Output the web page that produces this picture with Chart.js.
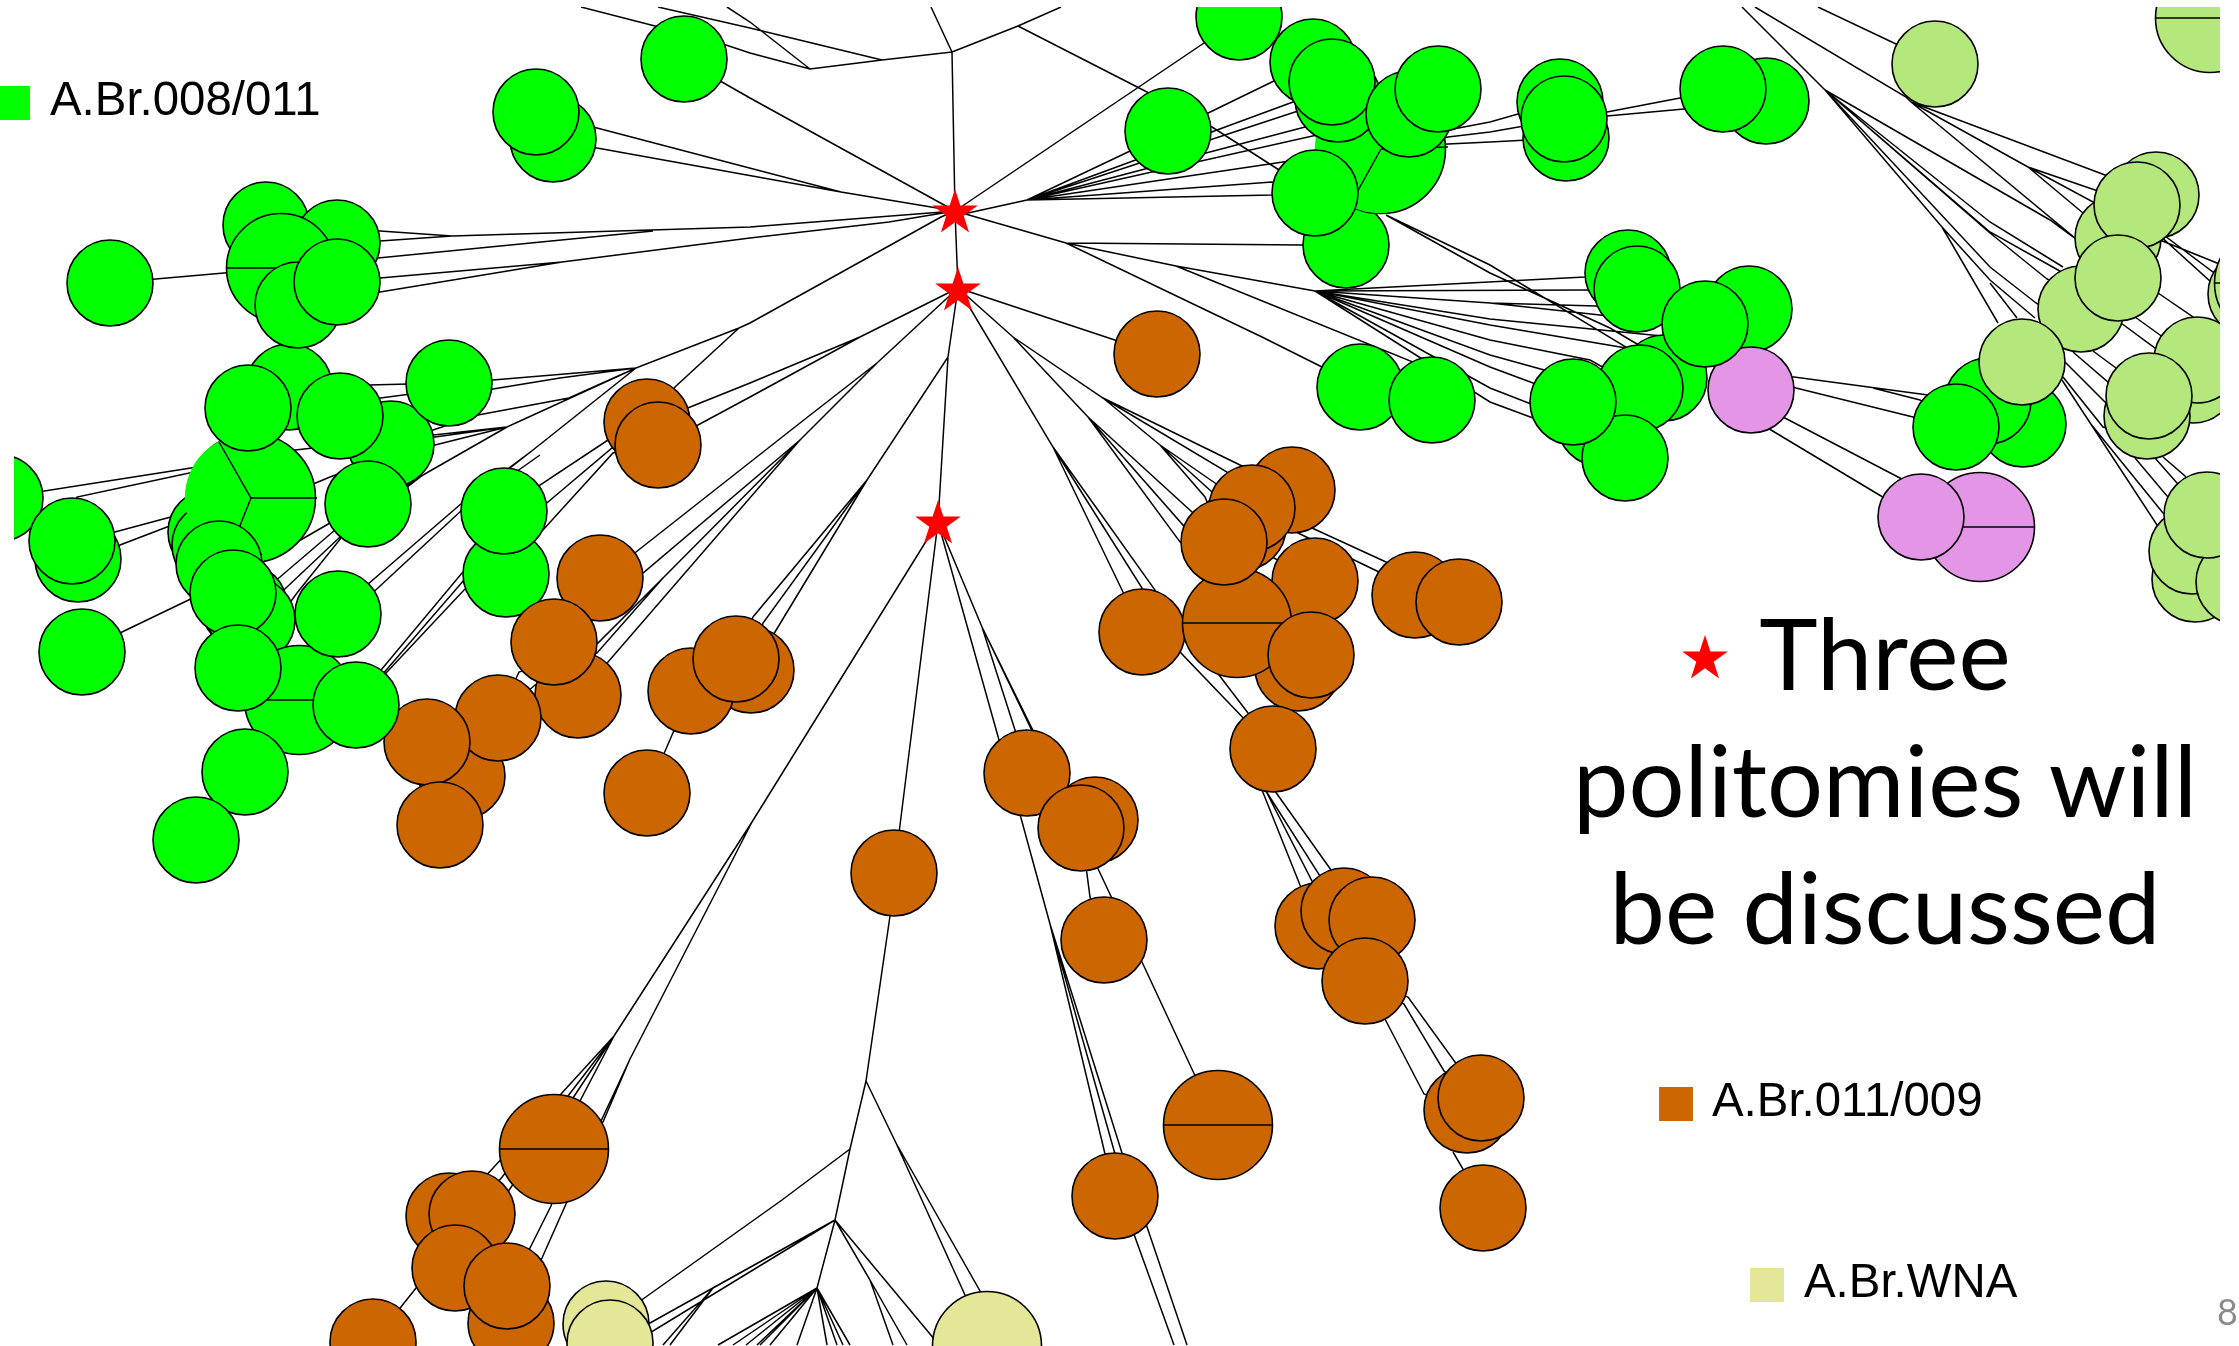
<!DOCTYPE html>
<html><head><meta charset="utf-8">
<style>html,body{margin:0;padding:0;background:#fff;overflow:hidden}canvas{display:block}</style>
<script src="https://cdn.jsdelivr.net/npm/chart.js@4/dist/chart.umd.min.js"></script>
</head><body><canvas id="c" width="2239" height="1346"></canvas>
<script>
// ---- node positions ----
const leafRadius = 43, pairRadius = 54.5, trioRadius = 64.5;
const greenBack = [[266,225],[337,243],[553,139],[211,532],[215,545],[1346,245],[289,387],[391,444],[244,606],[252,620],[506,574],[1566,138],[1766,101],[1560,102],[1239,17],[1628,273],[2023,424],[1749,309],[1664,378]];
const greenTrio = [[251,498],[1381,149]];
const greenPair = [[281,268],[299,700]];
const brownBack = [[647,422],[1292,490],[1243,527],[1315,581],[1142,632],[578,695],[462,776],[751,670],[1095,820],[1318,926],[1344,911],[1298,668],[1467,1110],[449,1216],[511,1323],[1415,595]];
const brownPair = [[1237,623],[554,1149],[1218,1125]];
const wnaPair = [[987,1346]];
const wnaLeaf = [[606,1324],[610,1343]];
const purplePair = [[1980,527]];
const purpleLeaf = [[1751,390],[1921,517]];
const limeBack = [[2251,294]];
const limePair = [[2210,18],[2269,283]];
const greenFront = [[684,59],[536,112],[298,305],[337,282],[110,283],[248,408],[340,416],[449,383],[0,498],[78,559],[72,541],[82,652],[219,564],[233,593],[238,668],[338,614],[245,772],[196,840],[368,504],[504,511],[1313,62],[1338,99],[1332,82],[1409,114],[1438,89],[1315,193],[1168,131],[1360,387],[1432,400],[1564,119],[1723,89],[1637,289],[1705,324],[1600,423],[1640,388],[1625,458],[1573,402],[1988,401],[1956,427]];
const brownFront = [[658,445],[600,578],[554,642],[498,718],[427,742],[440,825],[691,691],[736,659],[647,793],[1157,354],[1252,508],[1224,542],[1311,655],[1459,602],[1273,749],[1027,773],[1081,828],[894,873],[1104,940],[1115,1196],[1372,920],[1365,981],[1481,1098],[1483,1208],[472,1214],[455,1268],[507,1286],[373,1342]];
const greenTop = [[356,705]];
const limeFront = [[1935,64],[2156,195],[2118,238],[2137,205],[2081,309],[2118,278],[2022,362],[2195,579],[2192,551],[2239,582],[2207,515],[2193,380],[2197,360],[2147,416],[2149,396]];
const politomies = [[955,213],[958,291],[938,524]];

// ---- branches: each entry is one polyline x,y,x,y... ----
const backboneEdges = [
 [952,52,955,211,958,288,948,357,938,522,894,873,890,916,866,1081,850,1149,835,1220,817,1288],
 [931,7,952,52],[1061,7,1018,26,952,52],[1018,26,1147,92,1212,127,1315,193],
 [952,52,882,60,810,69,750,53,726,45,655,26,581,7],[882,60,750,28,658,7],[810,69,750,22,727,7],
 [955,211,750,98,722,82,684,59]
];
const greenEdges = [
 [955,211,841,192,597,128,536,112],[841,192,597,148,553,139],
 [955,211,750,227,452,236,380,231,266,225],[452,236,380,241,337,243],
 [653,231,378,258,281,268],[955,211,889,222,750,238,562,262,380,278,337,282],[562,262,380,292,298,305],[281,268,110,283],
 [955,211,941,217,750,323,739,328,636,368,493,380,449,383],
 [636,368,560,378,493,389,449,400],[636,368,569,398,478,415,391,444],
 [636,368,507,427,435,437,391,444],[507,427,435,445,391,455],[507,427,423,475,368,504],[636,368,533,450,510,468,504,511],
 [533,450,462,503,338,610],[540,455,462,510,338,625],[506,540,462,573,356,700],[540,520,464,580,356,705],[540,530,464,590,356,705],
 [507,427,295,450,191,468,0,498],[295,450,194,472,77,497,72,541],
 [251,498,167,518,115,532,72,541],[251,498,167,527,120,545,78,559],[251,570,122,632,82,652],
 [423,475,330,523,252,568,219,590],[423,475,335,530,280,577,244,606],[423,475,340,537,287,587,252,620],[423,475,341,538,297,593,233,680],
 [391,455,330,477,251,510],[449,383,289,387],[449,389,289,410],[391,444,248,408],
 [968,213,1027,200,1128,152,1313,62],[1027,200,1293,102,1332,82],[1027,200,1295,112,1338,99],[1027,200,1305,127,1409,114],
 [1027,200,1317,135,1383,148],[1027,200,1283,162,1383,148],[1027,200,1272,182,1315,193],[1027,200,1272,195,1315,193],
 [955,211,968,213],[1066,243,1303,245,1346,245],[955,211,1204,43,1239,17],
 [955,211,1066,243,1262,337,1322,367,1360,387],[1066,243,1176,266,1315,291],[1176,266,1413,362,1432,400],
 [1315,291,1585,277,1628,273],[1315,291,1588,290,1637,289],[1315,291,1490,303,1596,306,1637,306],[1315,291,1490,303,1600,315,1640,320],
 [1315,291,1490,319,1662,336,1705,340],[1315,291,1490,325,1626,348,1664,378],[1315,291,1490,340,1590,360,1640,388],
 [1315,291,1490,355,1555,373,1600,397],[1315,291,1490,367,1533,383,1573,402],[1315,291,1490,388,1531,404,1573,402],[1315,291,1490,402,1533,418,1573,430],
 [1386,215,1490,265,1626,347,1664,378],[1386,215,1490,273,1610,328,1664,360],
 [1383,148,1448,130,1490,122,1560,102],[1383,148,1448,137,1490,132,1564,119],[1383,148,1448,144,1490,142,1566,138],
 [1566,119,1607,112,1680,98,1723,89],[1566,119,1607,116,1684,109,1766,101]
];
const brownEdges = [
 [958,288,860,337,750,383,608,440,540,485,504,520],[860,337,750,397,698,425,612,448,548,502,504,540],[690,430,613,453,543,530,506,560],
 [739,328,675,387,647,422],
 [958,288,877,363,800,423,636,552,600,578],[877,363,800,440,643,573,600,595],[800,440,663,578,598,643,519,672,498,718],[663,578,597,653,535,685,498,718],[800,440,608,662,578,695],
 [691,691,647,793],
 [948,357,867,480,753,617,736,659],[867,480,763,623,751,670],[867,480,775,632,751,670],
 [958,288,1157,354],
 [958,288,1053,447,1123,592,1142,632],[1053,447,1142,588,1142,632],[1053,447,1155,590,1181,653,1273,749],
 [958,288,1013,337,1103,398,1240,465,1292,490],[1103,398,1227,472,1252,508],[1103,398,1160,445,1215,483,1252,508],[1160,445,1212,492,1243,527],[1160,445,1205,497,1224,542],
 [1013,337,1088,417,1192,512,1224,542],[1088,417,1183,525,1224,542],[1088,417,1180,542,1224,560],[1200,650,1219,675,1248,713,1273,749],
 [1252,500,1312,528,1386,562,1459,600],[1240,490,1298,533,1379,572,1415,595],
 [1205,520,1237,623],[1215,525,1315,581],[1205,530,1311,655],
 [1250,760,1300,885,1318,926],[1250,760,1312,881,1344,911],[1260,770,1331,870,1372,920],[1266,791,1320,876,1365,981],
 [1365,981,1386,1021,1424,1094,1467,1110],[1365,981,1404,1004,1444,1071,1481,1098],[1365,981,1408,997,1455,1062,1481,1098],[1453,1152,1463,1169,1483,1208],
 [938,522,752,822,614,1036],[752,822,630,1059],
 [614,1036,561,1094,449,1216],[614,1036,568,1096,472,1214],[614,1036,573,1098,455,1268],[614,1036,580,1101,551,1206,530,1248,507,1286],
 [630,1059,602,1119,566,1204,542,1258,511,1323],[630,1059,603,1122,554,1149],[373,1342,440,1258],
 [938,522,982,627,1015,730,1027,773],[982,627,1081,828,1090,897,1104,940],[982,627,1075,820,1142,962,1218,1125],
 [938,522,999,740,1021,818,1050,924,1105,1154,1174,1345],[1050,924,1115,1154],[1050,924,1122,1153,1187,1345]
];
const wnaEdges = [
 [866,1081,896,1143,965,1295,987,1346],[896,1143,980,1291,987,1346],
 [850,1149,782,1200,643,1299,606,1324],[835,1220,650,1323,606,1343],[835,1220,653,1331,610,1343],[835,1220,713,1288,663,1345],[713,1288,670,1345],
 [817,1288,718,1345],[817,1288,733,1345],[817,1288,746,1345],[817,1288,757,1345],[817,1288,760,1345],[817,1288,770,1345],[817,1288,797,1345],[817,1288,827,1345],[817,1288,837,1345],[817,1288,843,1345],[817,1288,850,1345],
 [835,1220,870,1280,893,1345],[870,1280,907,1345],[835,1220,935,1340,987,1346]
];
const purpleEdges = [
 [1751,377,1794,377,1928,395,1988,401],[1873,388,1920,400,1956,427],[1751,373,1796,388,1913,417,1956,427],
 [1760,405,1921,489],[1751,418,1921,520]
];
const limeEdges = [
 [1818,7,1896,44,1935,64],[1755,7,1906,97,1911,102],[1742,7,1825,90,1942,227],
 [1911,102,2105,175,2137,187],[1911,102,2028,167,2095,190,2137,205],[2028,167,2093,202,2137,205],[2028,167,2083,213,2118,238],[1911,102,2075,238,2118,250],
 [1825,90,1990,222,2063,267],[1825,90,1990,232,2058,270,2081,285],[1825,90,1990,233,2047,279,2081,300],[1825,90,1990,267,2036,303,2081,330],[1825,90,2050,220,2073,237,2118,270],
 [1942,227,1990,280,2035,318],[1990,283,2017,318],[1942,227,1998,323],
 [2135,317,2160,335,2197,360],[2121,323,2155,348,2197,370],[2093,351,2116,368,2149,396],[2073,352,2108,382,2149,396],[2065,362,2105,402,2147,416],[2063,377,2103,427,2147,440],
 [2062,380,2157,525,2192,551],[2090,423,2163,513,2207,515],[2135,458,2167,496,2207,515],[2155,458,2177,483,2207,515],[2163,457,2185,476,2207,515],
 [2158,293,2193,317,2197,360],[2137,215,2160,240,2217,263,2269,283],[2137,215,2213,272,2269,283],[2137,215,2210,281,2251,294]
];
// dividing lines inside multi-sample nodes
const nodeSpokes = [
 [219,442,251,498,317,498],[251,498,227,558],[1381,149,1448,147],[1381,149,1350,205],
 [226,268,336,268],[244,700,354,700],[1182,623,1292,623],[499,1149,609,1149],[1163,1125,1273,1125],[1925,527,2035,527],[2155,18,2265,18],[2214,283,2324,283]
];
// the unstroked rim of the two three-part nodes
const unstrokedRims = [[249,498],[1379,149]];
const rimRadius = 64.2;

// ---- legend and notes ----
const legendLabels = ["A.Br.008/011","A.Br.011/009","A.Br.WNA"];
const legendColors = ["#00ff00","#cc6600","#e4e698"];
const legendSquares = [[13,103],[1676,1104],[1767,1285]];
const legendTextAt = [[50,115],[1712,1116],[1804,1297]];
const noteLines = ["Three","politomies will","be discussed"];
const noteCentre = [[1885,690],[1885,817],[1885,944]];
const noteStar = [[1705,659]];
const pageNumber = "8";
const pageNumberAt = [2217,1325];

const GREEN="#00ff00",BROWN="#cc6600",WNA="#e4e698",PURPLE="#e396e5",LIME="#b4e87d";

function starCanvas(R){
  const c=document.createElement('canvas');const s=Math.ceil(R*2+2);c.width=s;c.height=s;
  const g=c.getContext('2d');g.fillStyle='#ff0000';g.beginPath();
  for(let i=0;i<10;i++){const r=i%2?R*0.382:R,a=-Math.PI/2+i*Math.PI/5;
    const x=s/2+r*Math.cos(a),y=s/2+r*Math.sin(a);i?g.lineTo(x,y):g.moveTo(x,y);}
  g.closePath();g.fill();return c;
}
const star=starCanvas(24);

const nodes=(list,r,color,border=1.6)=>({type:'bubble',data:list.map(([x,y])=>({x,y,r})),backgroundColor:color,borderColor:'#000',borderWidth:border,clip:0});
const lines=(paths)=>{const d=[];paths.forEach(p=>{for(let i=0;i<p.length;i+=2)d.push({x:p[i],y:p[i+1]});d.push({x:null,y:null});});
  return {type:'scatter',showLine:true,spanGaps:false,data:d,borderColor:'#000',borderWidth:1.5,pointRadius:0,clip:0,tension:0,fill:false};};
const marks=(list,style,radius,color)=>({type:'scatter',data:list.map(([x,y])=>({x,y})),pointStyle:style,pointRadius:radius,backgroundColor:color,borderWidth:0,showLine:false,clip:false});

const layers=[
 lines(backboneEdges.concat(greenEdges,brownEdges,wnaEdges,purpleEdges,limeEdges)),
 nodes(greenBack,leafRadius,GREEN),
 nodes(brownBack,leafRadius,BROWN),
 nodes(limeBack,leafRadius,LIME),
 nodes(greenTrio,trioRadius,GREEN),
 nodes(unstrokedRims,rimRadius,GREEN,0),
 nodes(greenPair,pairRadius,GREEN),
 nodes(brownPair,pairRadius,BROWN),
 nodes(wnaPair,pairRadius,WNA),
 nodes(purplePair,pairRadius,PURPLE),
 nodes(limePair,pairRadius,LIME),
 lines(nodeSpokes),
 nodes(wnaLeaf,leafRadius,WNA),
 nodes(purpleLeaf,leafRadius,PURPLE),
 nodes(greenFront,leafRadius,GREEN),
 nodes(brownFront,leafRadius,BROWN),
 nodes(greenTop,leafRadius,GREEN),
 nodes(limeFront,leafRadius,LIME),
 marks(politomies,star,24,'#ff0000'),
 marks(noteStar,star,24,'#ff0000'),
 marks(legendSquares.slice(0,1),'rect',24,legendColors[0]),
 marks(legendSquares.slice(1,2),'rect',24,legendColors[1]),
 marks(legendSquares.slice(2,3),'rect',24,legendColors[2])
];
layers.forEach((d,i)=>{d.order=layers.length-i;});

const textPlugin={id:'slideText',afterDatasetsDraw(chart){
  const {ctx,scales:{x,y}}=chart;ctx.save();ctx.textBaseline='alphabetic';ctx.fillStyle='#000';
  ctx.textAlign='left';ctx.font='47.4px "Liberation Sans"';
  legendLabels.forEach((t,i)=>ctx.fillText(t,x.getPixelForValue(legendTextAt[i][0]),y.getPixelForValue(legendTextAt[i][1])));
  ctx.textAlign='center';ctx.font='99px Lato';
  noteLines.forEach((t,i)=>ctx.fillText(t,x.getPixelForValue(noteCentre[i][0]),y.getPixelForValue(noteCentre[i][1])));
  ctx.textAlign='left';ctx.font='36px Lato';ctx.fillStyle='#8b8b8b';
  ctx.fillText(pageNumber,x.getPixelForValue(pageNumberAt[0]),y.getPixelForValue(pageNumberAt[1]));
  ctx.restore();
}};

new Chart(document.getElementById('c'),{
  data:{datasets:layers},
  plugins:[textPlugin],
  options:{responsive:false,animation:false,events:[],
    layout:{autoPadding:false,padding:{left:14,top:7,right:19,bottom:0}},
    plugins:{legend:{display:false},tooltip:{enabled:false},title:{display:false}},
    scales:{x:{type:'linear',display:false,min:14,max:2220},
            y:{type:'linear',display:false,min:7,max:1346,reverse:true}}}
});
</script></body></html>
